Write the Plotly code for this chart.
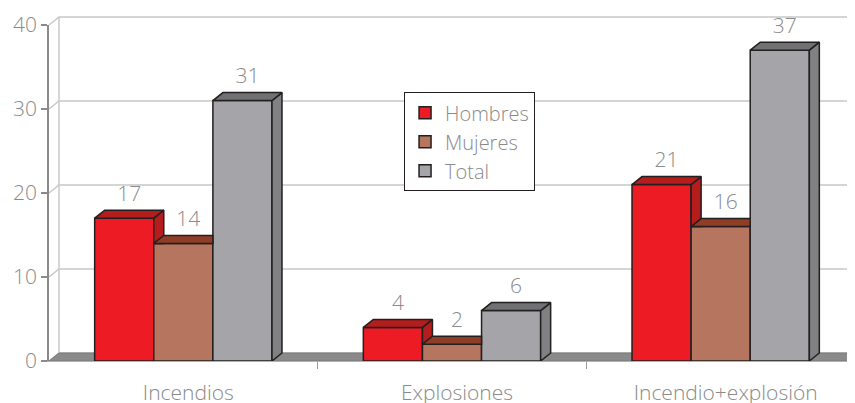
import plotly.graph_objects as go

# data
categories = ["Incendios", "Explosiones", "Incendio+explosión"]
hombres = [17, 4, 21]
mujeres = [14, 2, 16]
total = [31, 6, 37]
y_ticks = [0, 10, 20, 30, 40]

# the page body has an 8px margin, so the figure is 8px smaller than the window
W, H = 847, 395
M = dict(l=41, r=0, t=17, b=42)
X_RANGE = [-0.5, len(categories) - 0.5]
Y_RANGE = [0, 40]

# pixel -> data conversions for the fake 3D depth
px_x = (W - M["l"] - M["r"]) / (X_RANGE[1] - X_RANGE[0])
px_y = (H - M["t"] - M["b"]) / (Y_RANGE[1] - Y_RANGE[0])
DX = 10 / px_x
DY = 8 / px_y
LABEL_PAD = 4 / px_y
BAR_W = 0.22

TEXT = "#8a8a8a"
FONT = dict(family="Open Sans", size=21, color=TEXT, weight=300)
OUTLINE = "#231f20"

series = [
    ("Hombres", hombres, "#ed1c24", "#b51c1c", "#b51c1c"),
    ("Mujeres", mujeres, "#b5755e", "#8f3d25", "#8f3d25"),
    ("Total", total, "#a5a5a9", "#717173", "#818183"),
]


def clip_half(poly, f):
    out = []
    n = len(poly)
    for i in range(n):
        p, q = poly[i], poly[(i + 1) % n]
        fp, fq = f(p), f(q)
        if fp >= 0:
            out.append(p)
        if (fp >= 0) != (fq >= 0):
            t = fp / (fp - fq)
            out.append((p[0] + t * (q[0] - p[0]), p[1] + t * (q[1] - p[1])))
    return out


def poly_trace(poly, color):
    xs = [p[0] for p in poly] + [poly[0][0]]
    ys = [p[1] for p in poly] + [poly[0][1]]
    return go.Scatter(
        x=xs, y=ys, mode="lines", fill="toself", fillcolor=color,
        line=dict(color=OUTLINE, width=1.5), showlegend=False, hoverinfo="skip",
    )


fig = go.Figure()

# front faces
for i, (name, vals, front, top, side) in enumerate(series):
    fig.add_trace(
        go.Bar(
            x=list(range(len(categories))),
            y=vals,
            name=name,
            width=BAR_W,
            offset=-1.5 * BAR_W + i * BAR_W,
            marker=dict(color=front, line=dict(color=OUTLINE, width=1.5)),
            hoverinfo="x+y+name",
        )
    )

# top and side faces, left to right so later bars cover earlier sides
for c in range(len(categories)):
    for i, (name, vals, front, top, side) in enumerate(series):
        v = vals[c]
        L = c - 1.5 * BAR_W + i * BAR_W
        R = L + BAR_W
        v_next = series[i + 1][1][c] if i + 1 < len(series) else None

        side_poly = [(R, 0), (R, v), (R + DX, v + DY), (R + DX, DY)]
        if v_next is not None:
            side_poly = clip_half(side_poly, lambda p, vn=v_next: p[1] - vn)
        if len(side_poly) >= 3:
            fig.add_trace(poly_trace(side_poly, side))

        top_poly = [(L, v), (L + DX, v + DY), (R + DX, v + DY), (R, v)]
        if v_next is not None and v_next > v:
            top_poly = clip_half(top_poly, lambda p, r=R: r - p[0])
        fig.add_trace(poly_trace(top_poly, top))

# value labels above each bar
for i, (name, vals, front, top, side) in enumerate(series):
    fig.add_trace(
        go.Scatter(
            x=[c - 1.5 * BAR_W + (i + 0.5) * BAR_W + DX / 2 for c in range(len(categories))],
            y=[v + DY + LABEL_PAD for v in vals],
            text=[str(v) for v in vals],
            mode="text",
            textposition="top center",
            textfont=FONT,
            cliponaxis=False,
            showlegend=False,
            hoverinfo="skip",
        )
    )

# back wall grid, side wall diagonals and floor (paper coords)
dxp = DX / (X_RANGE[1] - X_RANGE[0])
dyp = DY / (Y_RANGE[1] - Y_RANGE[0])
shapes = []
for t in y_ticks:
    yp = (t - Y_RANGE[0]) / (Y_RANGE[1] - Y_RANGE[0])
    shapes.append(dict(
        type="path", xref="paper", yref="paper", layer="below",
        path=f"M 0,{yp} L {dxp},{yp + dyp} L 1,{yp + dyp}",
        line=dict(color="#c8c8c8", width=1.5),
    ))
shapes.append(dict(
    type="line", xref="paper", yref="paper", layer="below",
    x0=dxp, x1=dxp, y0=dyp, y1=1 + dyp,
    line=dict(color="#c8c8c8", width=1.5),
))
shapes.append(dict(
    type="path", xref="paper", yref="paper", layer="below",
    path=f"M 0,0 L {dxp},{dyp} L 1,{dyp} L 1,0 Z",
    fillcolor="#8a8a8a", line=dict(color="#7a7a7a", width=1),
))

fig.update_layout(
    width=W,
    height=H,
    margin=M,
    barmode="overlay",
    paper_bgcolor="white",
    plot_bgcolor="rgba(0,0,0,0)",
    font=FONT,
    shapes=shapes,
    showlegend=True,
    legend=dict(
        x=0.4405, y=0.80, xanchor="left", yanchor="top",
        bgcolor="white", bordercolor=OUTLINE, borderwidth=1,
        font=dict(FONT, size=20),
        tracegroupgap=0,
    ),
    xaxis=dict(
        range=X_RANGE,
        automargin=False,
        # labels sit under the middle of the bar block including its depth
        tickvals=[c + DX / 2 for c in range(len(categories))],
        ticktext=categories,
        ticks="outside", ticklen=0,
        ticklabelstandoff=13,
        minor=dict(tickvals=[0.5, 1.5, 2.5], ticks="outside", ticklen=7,
                   tickcolor="#9a9a9a", tickwidth=1),
        showline=True, linecolor="#b0b0b0", linewidth=1,
        showgrid=False, zeroline=False, fixedrange=True,
    ),
    yaxis=dict(
        range=Y_RANGE,
        automargin=False,
        tickvals=y_ticks,
        ticks="outside", ticklen=6, tickcolor="#8a8a8a", tickwidth=1.5,
        showline=True, linecolor="#8a8a8a", linewidth=1.5,
        showgrid=False, zeroline=False, fixedrange=True,
    ),
)

fig.write_html("out.html")
